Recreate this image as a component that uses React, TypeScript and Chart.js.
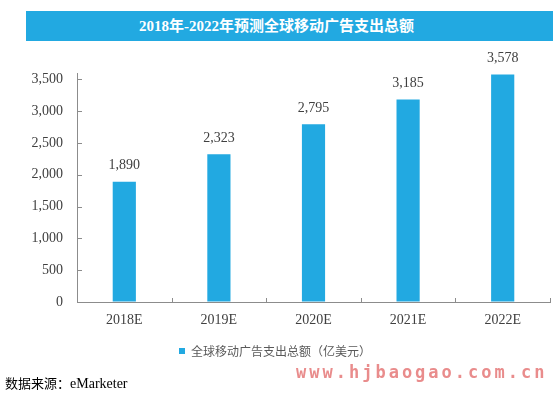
import React, { useEffect, useRef } from "react";
import { Chart, registerables } from "chart.js";

Chart.register(...registerables);

const categories = ["2018E", "2019E", "2020E", "2021E", "2022E"];
const spending = [1890, 2323, 2795, 3185, 3578];
const yTicks = [0, 500, 1000, 1500, 2000, 2500, 3000, 3500];
const yMax = 3600;
const seriesLabel = "全球移动广告支出总额（亿美元）";
const titleText = "2018年-2022年预测全球移动广告支出总额";
const sourceLabel = "数据来源：";
const sourceName = "eMarketer";
const watermarkText = "www.hjbaogao.com.cn";

const BLUE = "#22a9e1";
const AXIS = "#8c8c8c";
const TEXT = "#404040";
const SERIF = "'Liberation Serif', 'Times New Roman', 'Noto Sans CJK SC', serif";
const CJK = "'Noto Sans CJK SC', sans-serif";

const fmt = (v: number) => v.toLocaleString("en-US");

const valueLabels = {
  id: "valueLabels",
  afterDatasetsDraw(chart: any) {
    const ctx = chart.ctx;
    const meta = chart.getDatasetMeta(0);
    const data = chart.data.datasets[0].data as number[];
    ctx.save();
    ctx.font = `14px ${SERIF}`;
    ctx.fillStyle = TEXT;
    ctx.textAlign = "center";
    ctx.textBaseline = "middle";
    meta.data.forEach((bar: any, i: number) => {
      ctx.fillText(fmt(data[i]), bar.x, bar.y - 16);
    });
    ctx.restore();
  },
};

const innerTicks = {
  id: "innerTicks",
  afterDraw(chart: any) {
    const ctx = chart.ctx;
    const { left, bottom } = chart.chartArea;
    const ys = chart.scales.y;
    const xs = chart.scales.x;
    ctx.save();
    ctx.strokeStyle = AXIS;
    ctx.lineWidth = 1;
    ctx.beginPath();
    yTicks.forEach((v) => {
      const y = Math.round(ys.getPixelForValue(v)) + 0.5;
      ctx.moveTo(left, y);
      ctx.lineTo(left + 5, y);
    });
    const n = categories.length;
    for (let i = 0; i < n; i++) {
      const c = xs.getPixelForValue(i);
      const next = i < n - 1 ? xs.getPixelForValue(i + 1) : c + (c - xs.getPixelForValue(i - 1));
      const bx = Math.round((c + next) / 2) + 0.5;
      ctx.moveTo(bx, bottom);
      ctx.lineTo(bx, bottom - 4);
    }
    ctx.stroke();
    ctx.restore();
  },
};

export default function App() {
  const canvasRef = useRef<HTMLCanvasElement | null>(null);

  useEffect(() => {
    const canvas = canvasRef.current;
    if (!canvas) return;
    const chart = new Chart(canvas, {
      type: "bar",
      data: {
        labels: categories,
        datasets: [
          {
            label: seriesLabel,
            data: spending,
            backgroundColor: BLUE,
            borderWidth: 0,
            barPercentage: 0.245,
            categoryPercentage: 1,
          },
        ],
      },
      options: {
        responsive: false,
        animation: false,
        devicePixelRatio: 1,
        layout: { padding: { top: 73, left: 0, right: 3, bottom: 29 } },
        plugins: {
          title: { display: false },
          tooltip: { enabled: false },
          legend: {
            display: true,
            position: "bottom",
            labels: {
              usePointStyle: true,
              pointStyle: "rect",
              boxWidth: 6,
              boxHeight: 6,
              padding: 10,
              color: "#595959",
              font: { size: 12, family: CJK },
            },
          },
        },
        scales: {
          x: {
            grid: { display: true, drawOnChartArea: false, drawTicks: false },
            border: { display: true, color: AXIS, width: 1 },
            ticks: { color: TEXT, padding: 10, font: { size: 14, family: SERIF } },
            afterFit: (s: any) => {
              s.height = 33;
            },
          },
          y: {
            min: 0,
            max: yMax,
            grid: { display: true, drawOnChartArea: false, drawTicks: false },
            border: { display: true, color: AXIS, width: 1 },
            afterBuildTicks: (s: any) => {
              s.ticks = yTicks.map((v) => ({ value: v }));
            },
            ticks: {
              autoSkip: false,
              color: TEXT,
              padding: 14,
              font: { size: 14, family: SERIF },
              callback: (v: any) => fmt(Number(v)),
            },
            afterFit: (s: any) => {
              s.width = 77;
            },
          },
        },
      },
      plugins: [valueLabels, innerTicks],
    });
    return () => chart.destroy();
  }, []);

  return (
    <div
      style={{
        position: "fixed",
        left: 0,
        top: 0,
        width: 553,
        height: 396,
        background: "#ffffff",
        overflow: "hidden",
      }}
    >
      <canvas ref={canvasRef} width={553} height={396} style={{ position: "absolute", left: 0, top: 0 }} />
      <div
        style={{
          position: "absolute",
          left: 26,
          top: 11,
          width: 527,
          height: 30,
          background: BLUE,
          color: "#ffffff",
          fontFamily: SERIF,
          fontWeight: "bold",
          fontSize: 15,
          lineHeight: "30px",
          textAlign: "center",
          paddingRight: 26,
          boxSizing: "border-box",
          whiteSpace: "nowrap",
        }}
      >
        {titleText}
      </div>
      <div
        style={{
          position: "absolute",
          left: 296,
          top: 362,
          fontFamily: "'DejaVu Sans Mono', monospace",
          fontWeight: "bold",
          fontSize: 17,
          letterSpacing: 3,
          color: "#e98c8c",
          whiteSpace: "nowrap",
        }}
      >
        {watermarkText}
      </div>
      <div
        style={{
          position: "absolute",
          left: 5,
          top: 374,
          color: "#000000",
          whiteSpace: "nowrap",
          lineHeight: "18px",
        }}
      >
        <span style={{ fontFamily: CJK, fontSize: 13 }}>{sourceLabel}</span>
        <span style={{ fontFamily: SERIF, fontSize: 14 }}>{sourceName}</span>
      </div>
    </div>
  );
}
